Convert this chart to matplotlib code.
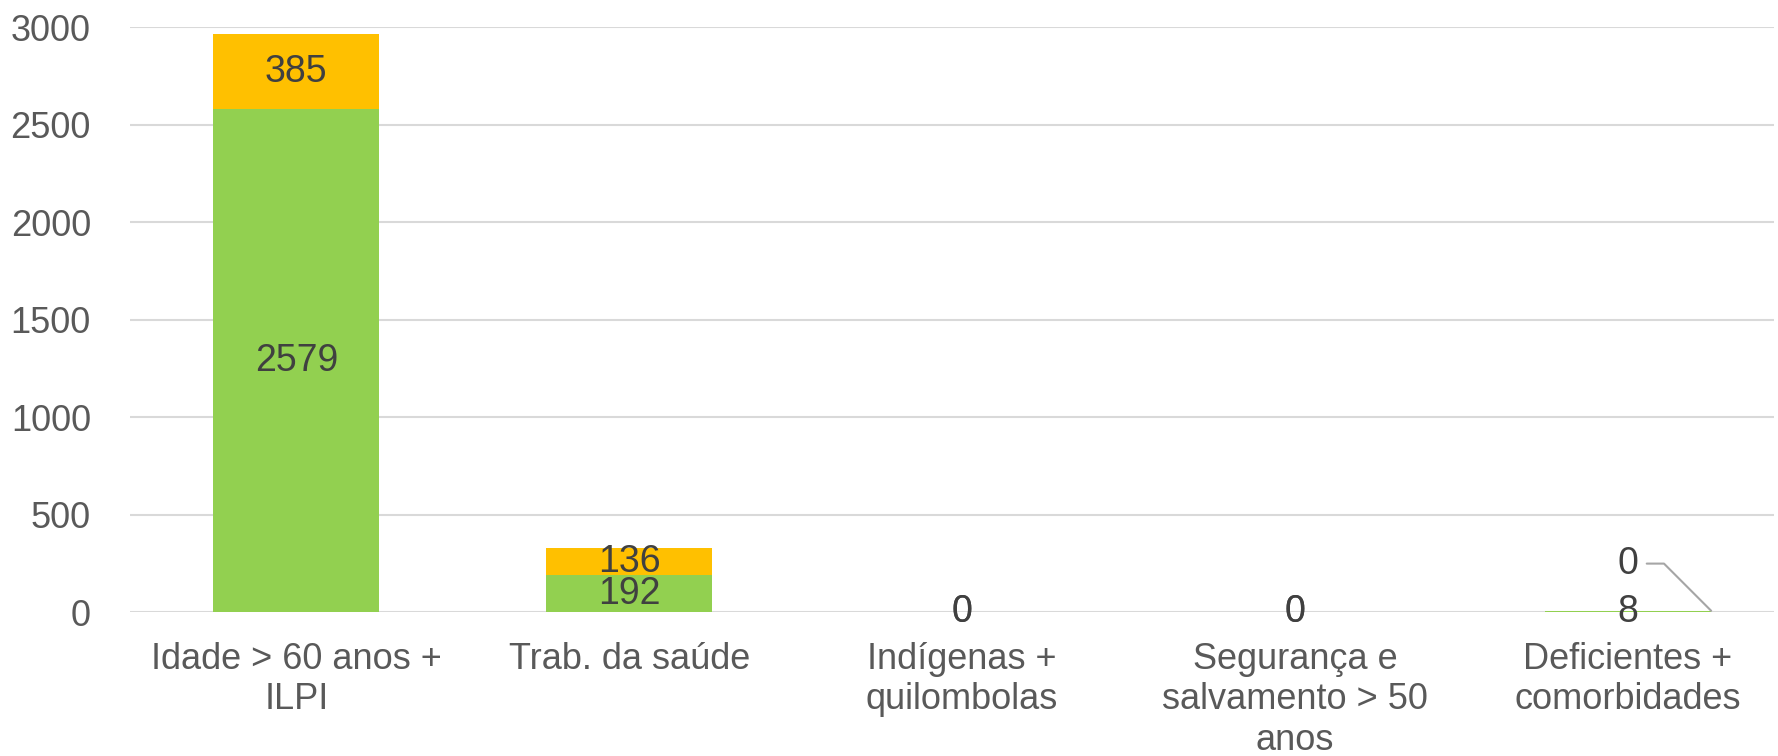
import matplotlib.pyplot as plt

plt.rcParams['font.family'] = ['Liberation Sans', 'DejaVu Sans']

# categorias e doses aplicadas
categorias = [
    "Idade > 60 anos +\nILPI",
    "Trab. da saúde",
    "Indígenas +\nquilombolas",
    "Segurança e\nsalvamento > 50\nanos",
    "Deficientes +\ncomorbidades",
]
dose1 = [2579, 192, 0, 0, 8]
dose2 = [385, 136, 0, 0, 0]
yticks = [0, 500, 1000, 1500, 2000, 2500, 3000]

verde = "#92D050"
laranja = "#FFC000"
cor_rotulo = "#404040"
cor_eixo = "#595959"

fig = plt.figure(figsize=(17.78, 7.56), dpi=100)
ax = fig.add_axes([0.073, 0.19, 0.925, 0.774])

x = list(range(len(categorias)))
b1 = ax.bar(x, dose1, width=0.5, color=verde, zorder=2)
b2 = ax.bar(x, dose2, width=0.5, bottom=dose1, color=laranja, zorder=2)

ax.bar_label(b1, labels=[str(v) for v in dose1], label_type='center',
             fontsize=27, color=cor_rotulo)
# o último rótulo da segunda série fica deslocado com linha de chamada
rot2 = [str(v) for v in dose2[:-1]] + [""]
ax.bar_label(b2, labels=rot2, label_type='center', fontsize=27, color=cor_rotulo)

i = len(categorias) - 1
ax.annotate(str(dose2[i]), xy=(x[i] + 0.25, dose1[i] + dose2[i]),
            xytext=(x[i], 250), ha='center', va='center',
            fontsize=27, color=cor_rotulo,
            arrowprops=dict(arrowstyle='-', color='#A6A6A6', lw=1.5,
                            shrinkA=4, shrinkB=0, relpos=(1, 0.5),
                            connectionstyle='angle,angleA=0,angleB=135,rad=0'))

ax.set_ylim(0, 3000)
ax.set_xlim(-0.5, 4.44)
ax.set_yticks(yticks)
ax.set_xticks(x)
ax.set_xticklabels(categorias, linespacing=1.22)
ax.yaxis.grid(True, color='#D9D9D9', linewidth=1.5, zorder=0)
ax.set_axisbelow(True)
for s in ax.spines.values():
    s.set_visible(False)
ax.tick_params(axis='both', length=0, labelsize=26, labelcolor=cor_eixo)
ax.tick_params(axis='y', pad=28)
ax.tick_params(axis='x', pad=21)

fig.savefig("out.png", dpi=100)
